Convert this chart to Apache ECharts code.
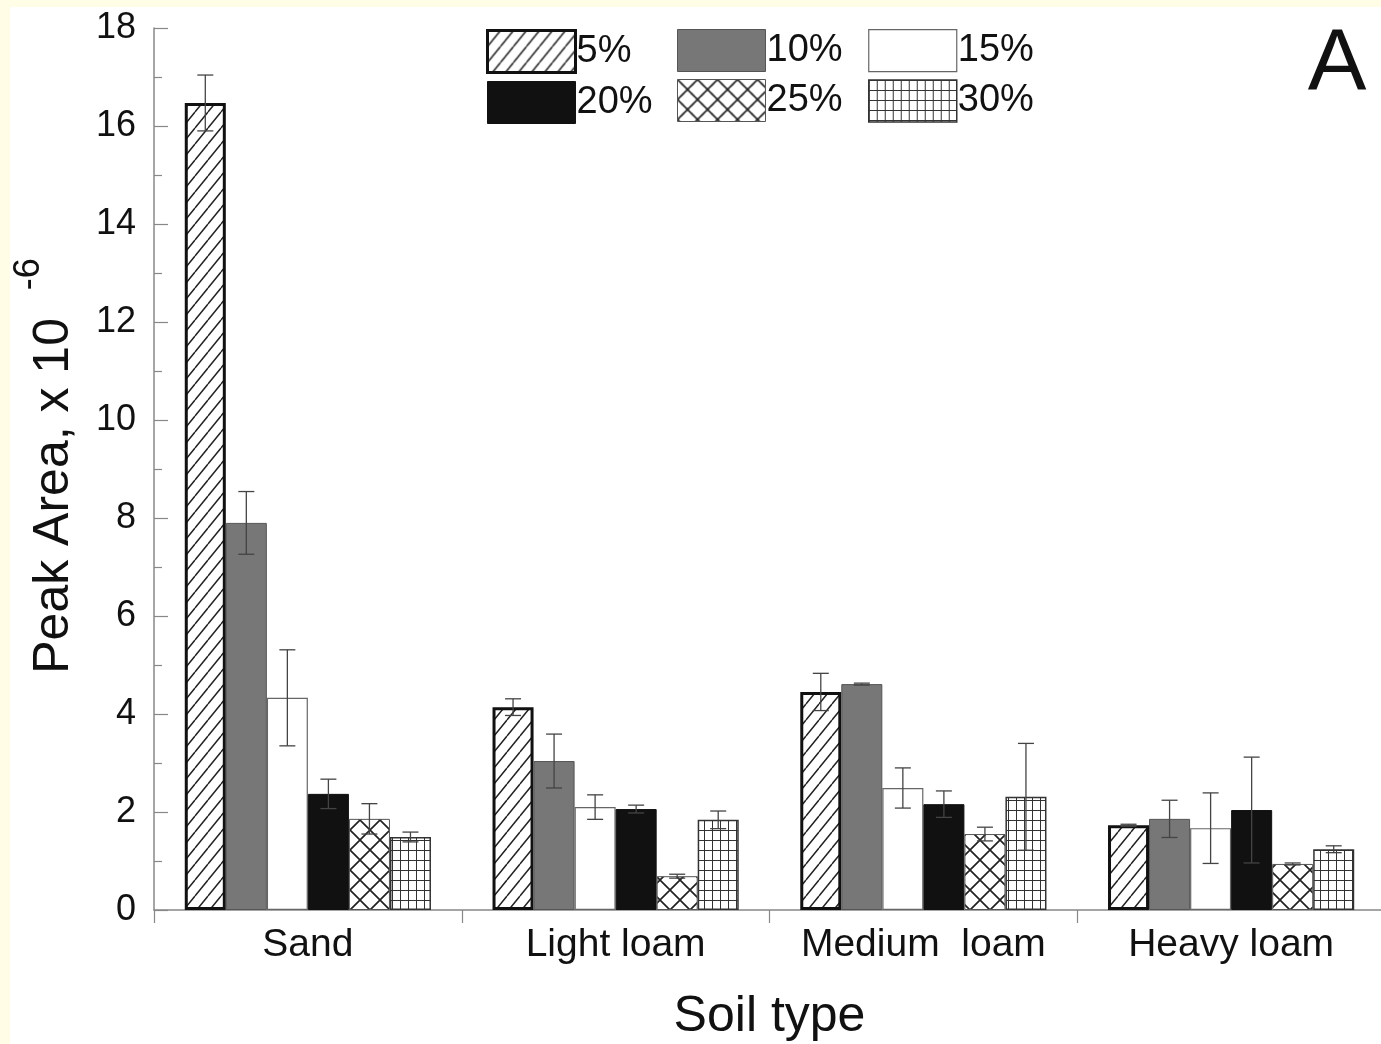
<!DOCTYPE html>
<html>
<head>
<meta charset="utf-8">
<script src="https://cdn.jsdelivr.net/npm/echarts@6/dist/echarts.min.js"></script>
<style>
html,body{margin:0;padding:0;background:#fff;}
#chart{width:1381px;height:1044px;}
</style>
</head>
<body>
<div id="chart"></div>
<script>
// ---- data ----
const categories = ['Sand', 'Light loam', 'Medium  loam', 'Heavy loam'];
const seriesNames = ['5%', '10%', '15%', '20%', '25%', '30%'];
const v5  = [16.47, 4.14, 4.45, 1.73];
const v10 = [7.90, 3.04, 4.61, 1.86];
const v15 = [4.33, 2.10, 2.49, 1.67];
const v20 = [2.37, 2.06, 2.16, 2.04];
const v25 = [1.86, 0.69, 1.55, 0.94];
const v30 = [1.49, 1.84, 2.31, 1.24];
const e5  = [0.57, 0.17, 0.38, 0.02];
const e10 = [0.64, 0.55, 0.02, 0.38];
const e15 = [0.98, 0.25, 0.41, 0.72];
const e20 = [0.30, 0.08, 0.27, 1.08];
const e25 = [0.31, 0.04, 0.14, 0.02];
const e30 = [0.10, 0.18, 1.09, 0.07];
const yTicks = [0, 2, 4, 6, 8, 10, 12, 14, 16, 18];

const values = [v5, v10, v15, v20, v25, v30];
const errors = [e5, e10, e15, e20, e25, e30];

const FONT = '"Liberation Sans", Arial, sans-serif';

function makePattern(w, h, draw) {
  const c = document.createElement('canvas');
  c.width = w; c.height = h;
  const ctx = c.getContext('2d');
  ctx.fillStyle = '#ffffff';
  ctx.fillRect(0, 0, w, h);
  draw(ctx, w, h);
  return { image: c, repeat: 'repeat' };
}
const diagPattern = makePattern(13, 16, (ctx, w, h) => {
  ctx.strokeStyle = '#222'; ctx.lineWidth = 1.5;
  ctx.beginPath();
  for (let k = -1; k <= 1; k++) { ctx.moveTo(k * w, h); ctx.lineTo(k * w + w, 0); }
  ctx.stroke();
});
const crossPattern = makePattern(20, 20, (ctx, w, h) => {
  ctx.strokeStyle = '#222'; ctx.lineWidth = 1.7;
  ctx.beginPath();
  for (let k = -1; k <= 1; k++) {
    ctx.moveTo(k * w, h); ctx.lineTo(k * w + w, 0);
    ctx.moveTo(k * w, 0); ctx.lineTo(k * w + w, h);
  }
  ctx.stroke();
});
const gridPattern = makePattern(8, 10, (ctx, w, h) => {
  ctx.strokeStyle = '#333'; ctx.lineWidth = 1;
  ctx.beginPath();
  ctx.moveTo(0.5, 0); ctx.lineTo(0.5, h);
  ctx.moveTo(0, 0.5); ctx.lineTo(w, 0.5);
  ctx.stroke();
});

const styles = [
  { color: diagPattern, borderColor: '#111', borderWidth: 3 },
  { color: '#777777', borderColor: '#555', borderWidth: 1 },
  { color: '#ffffff', borderColor: '#666', borderWidth: 1.2 },
  { color: '#111111', borderColor: '#111', borderWidth: 1 },
  { color: crossPattern, borderColor: '#555', borderWidth: 1 },
  { color: gridPattern, borderColor: '#333', borderWidth: 1.5 }
];

const barSeries = seriesNames.map((name, i) => ({
  name: name,
  type: 'bar',
  data: values[i],
  barGap: '0%',
  barCategoryGap: '20%',
  itemStyle: styles[i],
  emphasis: { disabled: true },
  z: 2
}));

const errData = [];
seriesNames.forEach((n, s) => {
  categories.forEach((c, ci) => {
    errData.push([ci, values[s][ci], errors[s][ci], s]);
  });
});

const errSeries = {
  type: 'custom',
  z: 5,
  silent: true,
  encode: { x: 0, y: 1 },
  data: errData,
  renderItem: function (params, api) {
    const ci = api.value(0), v = api.value(1), e = api.value(2), s = api.value(3);
    const catW = api.size([1, 0])[0];
    const barW = catW * 0.8 / 6;
    const c = api.coord([ci, v]);
    const x = c[0] + (s - 2.5) * barW;
    const yt = api.coord([ci, v + e])[1];
    const yb = api.coord([ci, v - e])[1];
    const hw = 8;
    const st = { stroke: '#444', lineWidth: 1.3 };
    return {
      type: 'group',
      children: [
        { type: 'line', shape: { x1: x, y1: yt, x2: x, y2: yb }, style: st },
        { type: 'line', shape: { x1: x - hw, y1: yt, x2: x + hw, y2: yt }, style: st },
        { type: 'line', shape: { x1: x - hw, y1: yb, x2: x + hw, y2: yb }, style: st }
      ]
    };
  }
};

const legendBase = {
  orient: 'vertical',
  top: 29,
  padding: 0,
  itemWidth: 88,
  itemHeight: 42,
  itemGap: 7,
  icon: 'rect',
  selectedMode: false,
  itemStyle: { borderWidth: 'inherit' },
  textStyle: { fontSize: 38, color: '#111', fontFamily: FONT, padding: [0, 0, 0, -4] }
};

const chart = echarts.init(document.getElementById('chart'), null, { renderer: 'canvas' });
chart.setOption({
  backgroundColor: '#ffffff',
  animation: false,
  grid: { left: 154, right: -4, top: 28, bottom: 134, containLabel: false, outerBoundsMode: 'none' },
  legend: [
    Object.assign({}, legendBase, { left: 486, data: [seriesNames[0], seriesNames[3]] }),
    Object.assign({}, legendBase, { left: 677, data: [seriesNames[1], seriesNames[4]] }),
    Object.assign({}, legendBase, { left: 868, data: [seriesNames[2], seriesNames[5]] })
  ],
  xAxis: {
    type: 'category',
    data: categories,
    name: 'Soil type',
    nameLocation: 'middle',
    nameGap: 82,
    nameTextStyle: { fontSize: 50, color: '#111', fontFamily: FONT },
    axisLine: { lineStyle: { color: '#888', width: 1.5 } },
    axisTick: { show: true, interval: 0, alignWithLabel: false, length: 13, lineStyle: { color: '#888', width: 1.2 } },
    axisLabel: { interval: 0, fontSize: 39, color: '#111', fontFamily: FONT, margin: 16 },
    splitLine: { show: false }
  },
  yAxis: {
    type: 'value',
    min: yTicks[0],
    max: yTicks[yTicks.length - 1],
    interval: yTicks[1] - yTicks[0],
    axisLine: { show: true, lineStyle: { color: '#888', width: 1.5 } },
    axisTick: { show: true, inside: true, length: 14, lineStyle: { color: '#888', width: 1.2 } },
    minorTick: { show: true, splitNumber: 2, length: 8, lineStyle: { color: '#888', width: 1.2 } },
    splitLine: { show: false },
    minorSplitLine: { show: false },
    axisLabel: { fontSize: 36, color: '#111', fontFamily: FONT, margin: 18 }
  },
  graphic: [
    { type: 'rect', shape: { x: 0, y: 0, width: 1381, height: 7 }, style: { fill: '#fffde6' }, silent: true },
    { type: 'rect', shape: { x: 0, y: 0, width: 10, height: 1044 }, style: { fill: '#fffde6' }, silent: true },
    {
      type: 'text', x: 54, y: 466, rotation: Math.PI / 2,
      style: {
        text: '{a|Peak Area, x 10  }{b|-6}',
        align: 'center', verticalAlign: 'middle',
        rich: {
          a: { fontSize: 50, lineHeight: 86, fontFamily: FONT, fill: '#111', verticalAlign: 'middle' },
          b: { fontSize: 36, lineHeight: 36, fontFamily: FONT, fill: '#111', verticalAlign: 'top' }
        }
      }
    },
    {
      type: 'text', x: 1337, y: 66,
      style: { text: 'A', fontSize: 88, fontFamily: FONT, fill: '#111', align: 'center', verticalAlign: 'middle' }
    }
  ],
  series: barSeries.concat([errSeries])
});
</script>
</body>
</html>
